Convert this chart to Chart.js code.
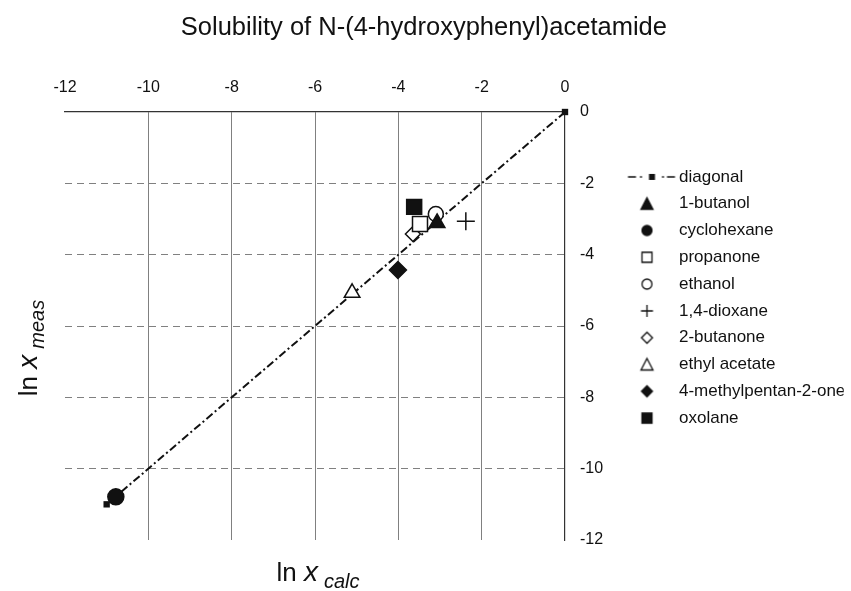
<!DOCTYPE html>
<html>
<head>
<meta charset="utf-8">
<script src="https://cdn.jsdelivr.net/npm/chart.js@4.4.1/dist/chart.umd.min.js"></script>
<style>
  html, body { margin: 0; padding: 0; background: #fff; }
  #wrap { width: 851px; height: 591px; }
</style>
</head>
<body>
<div id="wrap"><canvas id="sol_chart"></canvas></div>
<script>
// values
const solvents = ["1-butanol", "cyclohexane", "propanone", "ethanol", "1,4-dioxane",
  "2-butanone", "ethyl acetate", "4-methylpentan-2-one", "oxolane"];
const lnXcalc = [-3.07, -10.78, -3.48, -3.10, -2.38, -3.65, -5.11, -4.01, -3.62];
const lnXmeas = [-3.11, -10.79, -3.14, -2.86, -3.06, -3.42, -5.07, -4.43, -2.66];
const diagonalX = [0, -11];
const diagonalY = [0, -11];
const axisTicks = [0, -2, -4, -6, -8, -10, -12];

const FONT = "'Liberation Sans', Arial, sans-serif";
const INK = "#111";

// marker look for each solvent (same order as solvents)
const marks = [
  { style: "triangle", r: 9, filled: true },
  { style: "circle", r: 8, filled: true },
  { style: "rect", r: 10.6, filled: false },
  { style: "circle", r: 7.5, filled: false },
  { style: "cross", r: 9, filled: false },
  { style: "rectRot", r: 7.5, filled: false },
  { style: "triangle", r: 9, filled: false },
  { style: "rectRot", r: 8.5, filled: true },
  { style: "rect", r: 10.6, filled: true },
];

// little pictures for the legend; the image centre is the legend box centre
function legendIcon(style, filled) {
  const c = document.createElement("canvas");
  c.width = 100;
  c.height = 20;
  const g = c.getContext("2d");
  g.fillStyle = filled ? INK : "#fff";
  g.strokeStyle = INK;
  g.lineWidth = 1.3;
  const x = 46.5, y = 10, h = 5.5;
  if (style === "diagonal") {
    g.fillStyle = INK;
    g.fillRect(27.5, 9.25, 8, 1.5);
    g.fillRect(39.5, 9.25, 2, 1.5);
    g.fillRect(61.5, 9.25, 2, 1.5);
    g.fillRect(66.5, 9.25, 8, 1.5);
    g.fillRect(48.5, 7, 6, 6);
    return c;
  }
  g.beginPath();
  if (style === "circle") {
    g.arc(x, y, h - 0.5, 0, Math.PI * 2);
  } else if (style === "rect") {
    g.rect(x - h + 0.5, y - h + 0.5, 2 * h - 1, 2 * h - 1);
  } else if (style === "rectRot") {
    g.moveTo(x - h, y); g.lineTo(x, y - h); g.lineTo(x + h, y); g.lineTo(x, y + h);
    g.closePath();
  } else if (style === "triangle") {
    g.moveTo(x, y - h - 0.5); g.lineTo(x + h + 0.5, y + h); g.lineTo(x - h - 0.5, y + h);
    g.closePath();
  } else if (style === "cross") {
    g.moveTo(x - h - 0.5, y); g.lineTo(x + h + 0.5, y);
    g.moveTo(x, y - h - 0.5); g.lineTo(x, y + h + 0.5);
    g.stroke();
    return c;
  }
  g.fill();
  g.stroke();
  return c;
}

const legendIcons = [legendIcon("diagonal")].concat(marks.map(m => legendIcon(m.style, m.filled)));

const datasets = [{
  label: "diagonal",
  data: diagonalX.map((x, i) => ({ x: x, y: diagonalY[i] })),
  showLine: true,
  borderColor: INK,
  borderWidth: 2,
  borderDash: [8, 3, 2, 3],
  pointStyle: "rect",
  pointRadius: 4.5,
  pointBorderWidth: 0,
  pointBackgroundColor: INK,
  clip: false,
  order: 1,
}];
solvents.forEach((name, i) => {
  datasets.push({
    label: name,
    data: [{ x: lnXcalc[i], y: lnXmeas[i] }],
    pointStyle: marks[i].style,
    pointRadius: marks[i].r,
    pointBackgroundColor: marks[i].filled ? INK : "#fff",
    pointBorderColor: INK,
    pointBorderWidth: 1.5,
    clip: false,
  });
});

// grid lines at the outer edges are not drawn
function gridColor(c) {
  if (!c.tick) return "#808080";
  return (c.tick.value === 0 || c.tick.value === -12) ? "rgba(0,0,0,0)" : "#808080";
}

// "ln x" with an italic subscript
function lnX(ctx, sub, cx, cy, rot) {
  ctx.save();
  ctx.translate(cx, cy);
  ctx.rotate(rot);
  ctx.fillStyle = INK;
  ctx.textBaseline = "alphabetic";
  const f1 = "26px " + FONT, f2 = "italic 28px " + FONT, f3 = "italic 20px " + FONT;
  ctx.font = f1; const w1 = ctx.measureText("ln ").width;
  ctx.font = f2; const w2 = ctx.measureText("x").width;
  ctx.font = f3; const w3 = ctx.measureText(sub).width;
  const gap = 6;
  let x = -(w1 + w2 + gap + w3) / 2;
  ctx.font = f1; ctx.fillText("ln ", x, 0); x += w1;
  ctx.font = f2; ctx.fillText("x", x, 0); x += w2 + gap;
  ctx.font = f3; ctx.fillText(sub, x, 7);
  ctx.restore();
}

const axisTitles = {
  id: "axisTitles",
  afterDraw(chart) {
    const a = chart.chartArea;
    lnX(chart.ctx, "calc", (a.left + a.right) / 2 + 3, a.bottom + 41, 0);
    lnX(chart.ctx, "meas", 37, (a.top + a.bottom) / 2 + 22, -Math.PI / 2);
  }
};

Chart.defaults.font.family = FONT;
Chart.defaults.color = INK;

let ctx = document.getElementById("sol_chart").getContext("2d");
let solChart = new Chart(ctx, {
  type: "scatter",
  data: { datasets: datasets },
  options: {
    responsive: true,
    maintainAspectRatio: false,
    animation: false,
    events: [],
    layout: { padding: { top: 4, right: 7.3, left: 4, bottom: 0 } },
    scales: {
      x: {
        type: "linear",
        position: "top",
        min: -12,
        max: 0,
        afterBuildTicks: s => { s.ticks = axisTicks.map(v => ({ value: v })); },
        afterFit: s => { s.height = 61.4; },
        grid: { color: gridColor, lineWidth: 1, drawTicks: false },
        border: { color: "#333", width: 1.2 },
        ticks: { padding: 14.4, color: INK, font: { size: 16 }, maxRotation: 0 },
      },
      y: {
        type: "linear",
        position: "right",
        min: -12,
        max: 0,
        afterBuildTicks: s => { s.ticks = axisTicks.map(v => ({ value: v })); },
        afterFit: s => { s.width = 55.7; },
        grid: { color: gridColor, lineWidth: 1, drawTicks: false },
        border: { color: "#333", width: 1.2, dash: [7, 5] },
        ticks: { padding: 15, color: INK, font: { size: 16 } },
      },
      // empty boxes that only hold room for the axis titles
      xb: {
        type: "linear", position: "bottom",
        ticks: { display: false }, grid: { display: false }, border: { display: false },
        afterFit: s => { s.height = 51; },
      },
      yl: {
        type: "linear", position: "left",
        ticks: { display: false }, grid: { display: false }, border: { display: false },
        afterFit: s => { s.width = 61; },
      },
    },
    plugins: {
      title: {
        display: true,
        text: "Solubility of N-(4-hydroxyphenyl)acetamide",
        color: INK,
        font: { size: 25.5, weight: "normal" },
        padding: { top: 9, bottom: 7 },
      },
      legend: {
        position: "right",
        align: "center",
        maxWidth: 223,
        labels: {
          usePointStyle: true,
          pointStyleWidth: 40,
          padding: 9.8,
          color: INK,
          font: { size: 17 },
          generateLabels: chart => chart.data.datasets.map((ds, i) => ({
            text: ds.label,
            pointStyle: legendIcons[i],
            datasetIndex: i,
            fillStyle: "rgba(0,0,0,0)",
            strokeStyle: "rgba(0,0,0,0)",
            lineWidth: 0,
            fontColor: INK,
            hidden: false,
          })),
        },
      },
      tooltip: { enabled: false },
    },
  },
  plugins: [axisTitles],
});
</script>
</body>
</html>
